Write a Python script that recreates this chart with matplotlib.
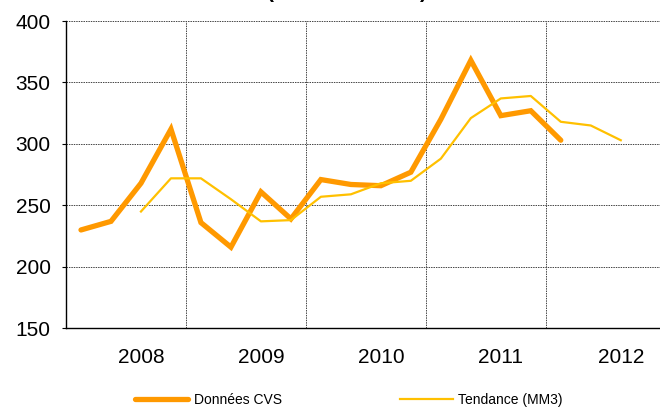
import matplotlib
matplotlib.use("Agg")
import matplotlib.pyplot as plt
from matplotlib.ticker import FixedLocator

plt.rcParams['font.family'] = ['Liberation Sans', 'DejaVu Sans']

# quarterly values
cvs = [230, 237, 268, 312, 236, 216, 261, 239, 271, 267, 266, 277, 320, 368, 323, 327, 303]
trend = [None, None, 245, 272, 272, 255, 237, 238, 257, 259, 268, 270, 288, 321, 337, 339, 318, 315, 303]
years = ["2008", "2009", "2010", "2011", "2012"]
year_pos = [2, 6, 10, 14, 18]
year_bounds = [3.5, 7.5, 11.5, 15.5]
y_ticks = [150, 200, 250, 300, 350, 400]

fig = plt.figure(figsize=(6.6, 4.07), dpi=100)
ax = fig.add_axes([0.1, 0.1934, 0.9087, 0.755])

x_cvs = list(range(len(cvs)))
x_tr = [i for i, v in enumerate(trend) if v is not None]
y_tr = [v for v in trend if v is not None]

ax.plot(x_cvs, cvs, color="#FF9900", lw=3.8, solid_capstyle="round",
        solid_joinstyle="miter", label="Données CVS", zorder=3)
ax.plot(x_tr, y_tr, color="#FFC000", lw=1.6, label="Tendance (MM3)", zorder=4)

ax.set_xlim(-0.5, 19.5)
ax.set_ylim(150, 400)
ax.set_yticks(y_ticks)
ax.set_xticks(year_pos)
ax.set_xticklabels(years)
ax.xaxis.set_minor_locator(FixedLocator(year_bounds))

ax.tick_params(axis="x", which="both", length=0, pad=14, labelsize=15)
ax.tick_params(axis="y", length=3, width=0.8, pad=8, labelsize=15)

ax.grid(axis="y", which="major", linestyle=(0, (1.5, 1)), color="#444444", lw=0.7)
ax.grid(axis="x", which="minor", linestyle=(0, (1.5, 1)), color="#444444", lw=0.7)
ax.grid(axis="x", which="major", visible=False)
for gl in ax.get_ygridlines():
    gl.set_clip_on(False)

for side in ["top", "right"]:
    ax.spines[side].set_visible(False)
ax.spines["left"].set_linewidth(1.0)
ax.spines["bottom"].set_linewidth(1.0)

# title, mostly cut off at the top of the image
fig.text(270 / 660, 1.005, "(", ha="center", va="baseline", fontsize=15, fontweight="bold")
fig.text(423 / 660, 1.005, ")", ha="center", va="baseline", fontsize=15, fontweight="bold")

fig.legend(loc="center", bbox_to_anchor=(349 / 660, 7 / 407), ncol=2, frameon=False,
           fontsize=10, handlelength=3.8, handletextpad=0.4, columnspacing=8.5,
           borderaxespad=0)

fig.savefig("out.png", dpi=100)
